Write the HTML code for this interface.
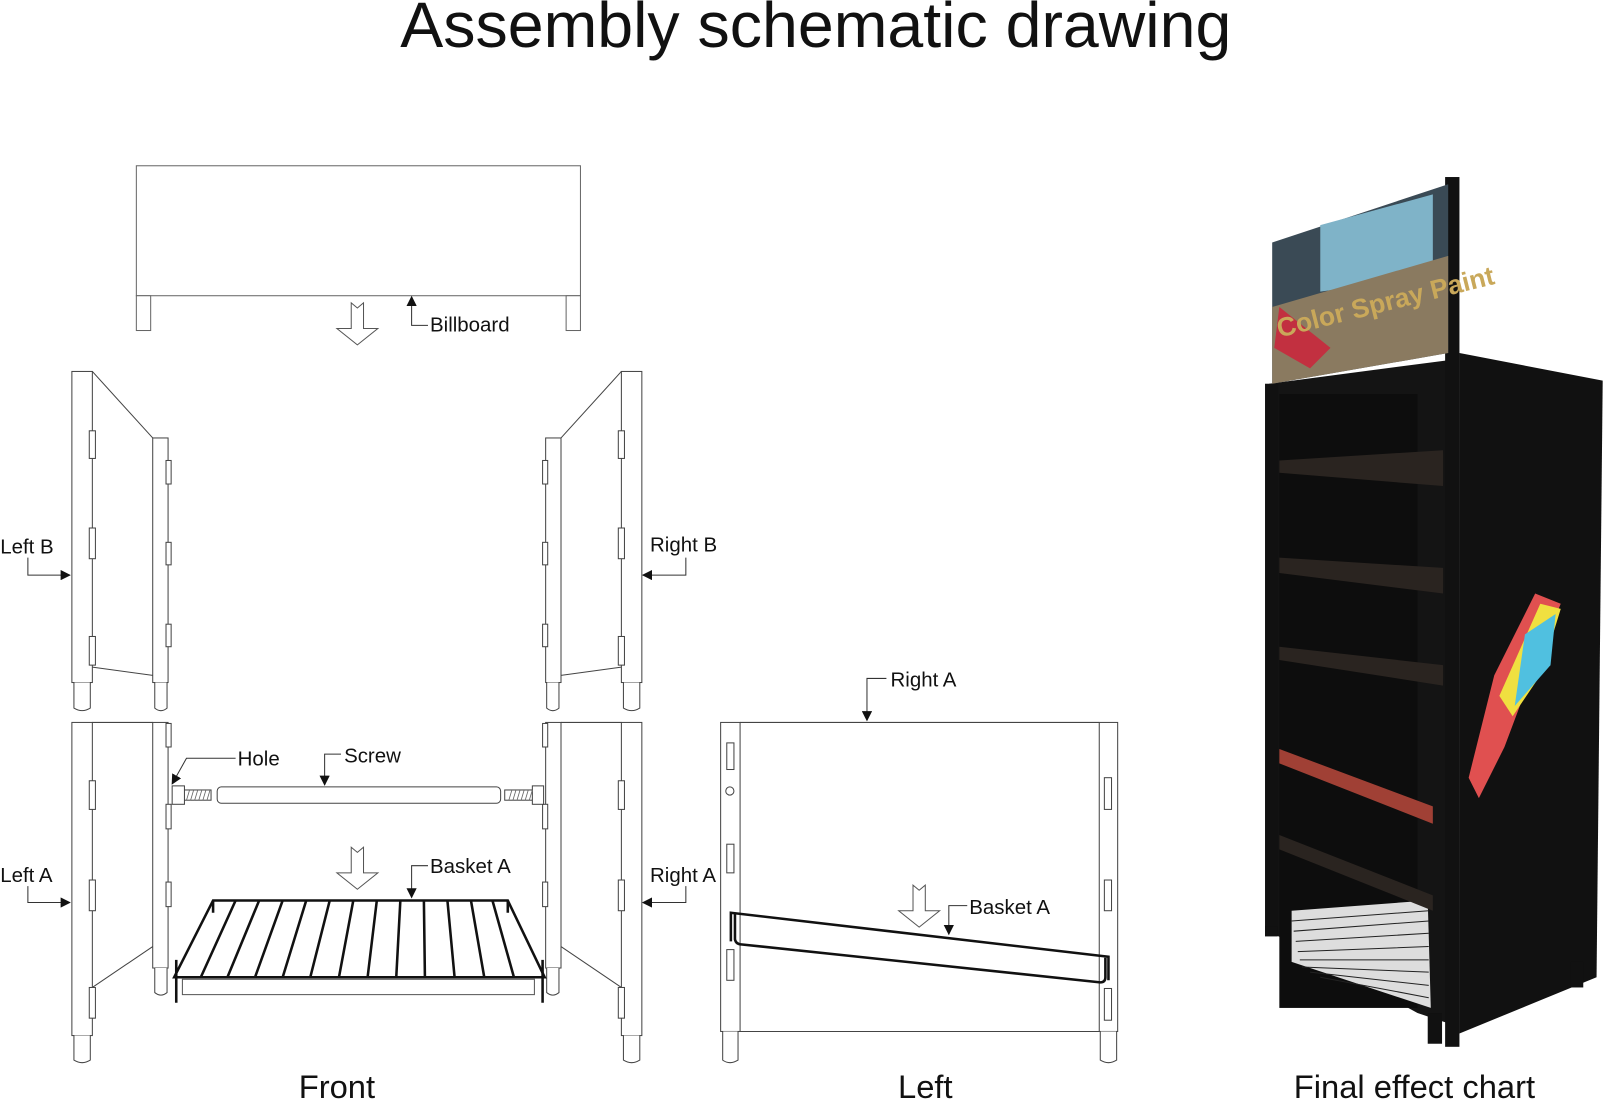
<!DOCTYPE html>
<html><head><meta charset="utf-8"><style>
html,body{margin:0;padding:0;background:#fff;}
svg{display:block;}
text{font-family:"Liberation Sans",Arial,sans-serif;fill:#111;}
</style></head><body>
<svg width="1605" height="1099" viewBox="0 0 1568 1074" xmlns="http://www.w3.org/2000/svg">
<defs>
<marker id="ah" markerWidth="10" markerHeight="10" refX="9" refY="5" orient="auto" markerUnits="userSpaceOnUse">
<path d="M0,0 L10,5 L0,10 Z" fill="#111"/></marker>
<g id="hollow"><path d="M-6,0 L0,5 L6,0 L6,25 L20,25 L0,41 L-20,25 L-6,25 Z" fill="#fff" stroke="#555" stroke-width="1"/></g>
<g id="panelB" fill="#fff" stroke="#444" stroke-width="1">
<rect x="70" y="363" width="20" height="304"/>
<path d="M72,667 L72,692 Q80,697 88,692 L88,667"/>
<rect x="149" y="428" width="15" height="239"/>
<path d="M151,667 L151,692 Q157,697 163,692 L163,667"/>
<path d="M90,363 L149,428 M90,652 L149,660" fill="none"/>
<rect x="87" y="421" width="6" height="27"/><rect x="87" y="516" width="6" height="30"/><rect x="87" y="622" width="6" height="28"/>
<rect x="162" y="450" width="5" height="23"/><rect x="162" y="530" width="5" height="22"/><rect x="162" y="610" width="5" height="22"/>
</g>
<g id="panelA" fill="#fff" stroke="#444" stroke-width="1">
<rect x="70" y="706" width="20" height="306"/>
<path d="M72,1012 L72,1036 Q80,1041 88,1036 L88,1012"/>
<rect x="149" y="706" width="15" height="240"/>
<path d="M151,946 L151,970 Q157,975 163,970 L163,946"/>
<path d="M90,706 L149,706 M90,965 L149,925" fill="none"/>
<rect x="87" y="763" width="6" height="28"/><rect x="87" y="860" width="6" height="30"/><rect x="87" y="965" width="6" height="30"/>
<rect x="162" y="707" width="5" height="23"/><rect x="162" y="786" width="5" height="24"/><rect x="162" y="862" width="5" height="24"/>
</g>
</defs>

<text x="797" y="46" font-size="63" text-anchor="middle">Assembly schematic drawing</text>

<g fill="#fff" stroke="#666" stroke-width="1">
<rect x="133" y="162" width="434" height="127"/>
<rect x="133" y="289" width="14" height="34"/>
<rect x="553" y="289" width="14" height="34"/>
</g>
<use href="#hollow" x="349" y="296"/>
<path d="M418,318 L402,318 L402,290" fill="none" stroke="#333" marker-end="url(#ah)"/>
<text x="420" y="324" font-size="20">Billboard</text>

<use href="#panelB"/>
<use href="#panelB" transform="translate(697,0) scale(-1,1)"/>
<use href="#panelA"/>
<use href="#panelA" transform="translate(697,0) scale(-1,1)"/>

<text x="0" y="541" font-size="20">Left B</text>
<path d="M27,545 L27,562 L68,562" fill="none" stroke="#333" marker-end="url(#ah)"/>
<text x="0" y="862" font-size="20">Left A</text>
<path d="M27,866 L27,882 L68,882" fill="none" stroke="#333" marker-end="url(#ah)"/>
<text x="635" y="539" font-size="20">Right B</text>
<path d="M670,545 L670,562 L628,562" fill="none" stroke="#333" marker-end="url(#ah)"/>
<text x="635" y="862" font-size="20">Right A</text>
<path d="M670,866 L670,882 L628,882" fill="none" stroke="#333" marker-end="url(#ah)"/>

<g fill="#fff" stroke="#444" stroke-width="1">
<rect x="212" y="769" width="277" height="16" rx="4"/>
<rect x="178" y="772" width="28" height="10"/>
<rect x="493" y="772" width="28" height="10"/>
<rect x="168" y="768" width="12" height="18"/>
<rect x="520" y="768" width="11" height="18"/>
</g>
<g stroke="#666" stroke-width="0.8">
<path d="M182,782 l3,-10 M186,782 l3,-10 M190,782 l3,-10 M194,782 l3,-10 M198,782 l3,-10 M202,782 l3,-10"/>
<path d="M497,782 l3,-10 M501,782 l3,-10 M505,782 l3,-10 M509,782 l3,-10 M513,782 l3,-10 M517,782 l3,-10"/>
</g>
<text x="232" y="748" font-size="20">Hole</text>
<path d="M230,741 L182,741 L168,766" fill="none" stroke="#333" marker-end="url(#ah)"/>
<text x="336" y="745" font-size="20">Screw</text>
<path d="M333,737 L317,737 L317,767" fill="none" stroke="#333" marker-end="url(#ah)"/>

<use href="#hollow" x="349" y="828"/>
<text x="420" y="853" font-size="20">Basket A</text>
<path d="M418,846 L402,846 L402,877" fill="none" stroke="#333" marker-end="url(#ah)"/>
<g fill="none" stroke="#111" stroke-width="2.5">
<path d="M170,955 L208,880 L496,880 L532,955 Z"/>
<path d="M172,938 L172,980 M530,938 L530,980 M208,880 L208,892 M496,880 L496,892"/>
<path d="M230,880 L196,955 M253,880 L222,955 M276,880 L249,955 M299,880 L276,955 M322,880 L303,955 M345,880 L331,955 M368,880 L359,955 M391,880 L387,955 M414,880 L415,955 M437,880 L444,955 M460,880 L473,955 M481,880 L502,955"/>
</g>
<rect x="178" y="957" width="344" height="15" fill="none" stroke="#555" stroke-width="1"/>

<g fill="#fff" stroke="#444" stroke-width="1">
<rect x="704" y="706" width="19" height="302"/>
<path d="M706,1008 L706,1036 Q713,1041 721,1036 L721,1008"/>
<rect x="1074" y="706" width="18" height="302"/>
<path d="M1075,1008 L1075,1036 Q1083,1041 1091,1036 L1091,1008"/>
<path d="M723,706 L1074,706 M723,1008 L1074,1008" fill="none"/>
<rect x="710" y="726" width="7" height="26"/><rect x="710" y="825" width="7" height="28"/><rect x="710" y="928" width="7" height="30"/>
<circle cx="713" cy="773" r="4"/>
<rect x="1079" y="760" width="7" height="31"/><rect x="1079" y="860" width="7" height="30"/><rect x="1079" y="966" width="7" height="31"/>
</g>
<text x="870" y="671" font-size="20">Right A</text>
<path d="M866,663 L847,663 L847,704" fill="none" stroke="#333" marker-end="url(#ah)"/>
<use href="#hollow" x="898" y="865"/>
<text x="947" y="893" font-size="20">Basket A</text>
<path d="M945,885 L927,885 L927,913" fill="none" stroke="#333" marker-end="url(#ah)"/>
<g fill="none" stroke="#111" stroke-width="2.5">
<path d="M714,920 L714,892 L1083,935 L1083,958"/>
<path d="M718,892 L718,918 Q719,923 725,923 L1075,960 Q1080,960 1080,955 L1080,936"/>
</g>

<text x="329" y="1073" font-size="32" text-anchor="middle">Front</text>
<text x="904" y="1073" font-size="32" text-anchor="middle">Left</text>
<text x="1382" y="1073" font-size="32" text-anchor="middle">Final effect chart</text>

<g>
<polygon points="1426,345 1566,372 1560,955 1426,1010" fill="#111"/>
<polygon points="1240,375 1415,352 1415,1000 1385,990 1240,910" fill="#141414"/>
<rect x="1250" y="385" width="135" height="600" fill="#0d0d0d"/>
<polygon points="1262,890 1395,880 1398,985 1262,940" fill="#ddd"/>
<g stroke="#222" stroke-width="1">
<path d="M1262,900 L1396,890 M1264,910 L1396,900 M1266,920 L1396,912 M1268,930 L1396,925 M1270,938 L1396,938 M1272,945 L1396,950 M1280,950 L1396,963 M1290,955 L1396,975"/>
</g>
<rect x="1236" y="375" width="13" height="540" fill="#111"/>
<rect x="1412" y="173" width="14" height="850" fill="#111"/>
<polygon points="1243,237 1415,180 1415,345 1243,375" fill="#3a4a55"/>
<polygon points="1290,220 1400,190 1400,270 1290,285" fill="#7fb3c8"/>
<polygon points="1243,300 1415,250 1415,345 1243,375" fill="#8a7a60"/>
<polygon points="1250,300 1300,340 1280,360 1245,340" fill="#c23040"/>
<text x="1250" y="330" font-size="26" font-weight="bold" transform="rotate(-14 1250 330)" style="fill:#c9a85a">Color Spray Paint</text>
<polygon points="1250,450 1410,440 1410,475 1250,462" fill="#2a2420"/>
<polygon points="1250,545 1410,555 1410,580 1250,560" fill="#2a2420"/>
<polygon points="1250,632 1410,650 1410,670 1250,645" fill="#2a2420"/>
<polygon points="1250,732 1400,788 1400,805 1250,746" fill="#a04035"/>
<polygon points="1250,816 1400,875 1400,890 1250,830" fill="#2a2420"/>
<polygon points="1500,580 1525,590 1500,650 1470,730 1445,780 1435,760 1460,660" fill="#e05050"/>
<polygon points="1505,590 1525,595 1505,660 1478,700 1465,680" fill="#f0e040"/>
<polygon points="1490,620 1520,600 1515,650 1480,690" fill="#50c0e0"/>
<rect x="1236" y="905" width="12" height="10" fill="#111"/>
<rect x="1395" y="990" width="14" height="30" fill="#111"/>
<rect x="1535" y="940" width="12" height="25" fill="#111"/>
</g>
</svg>
</body></html>
